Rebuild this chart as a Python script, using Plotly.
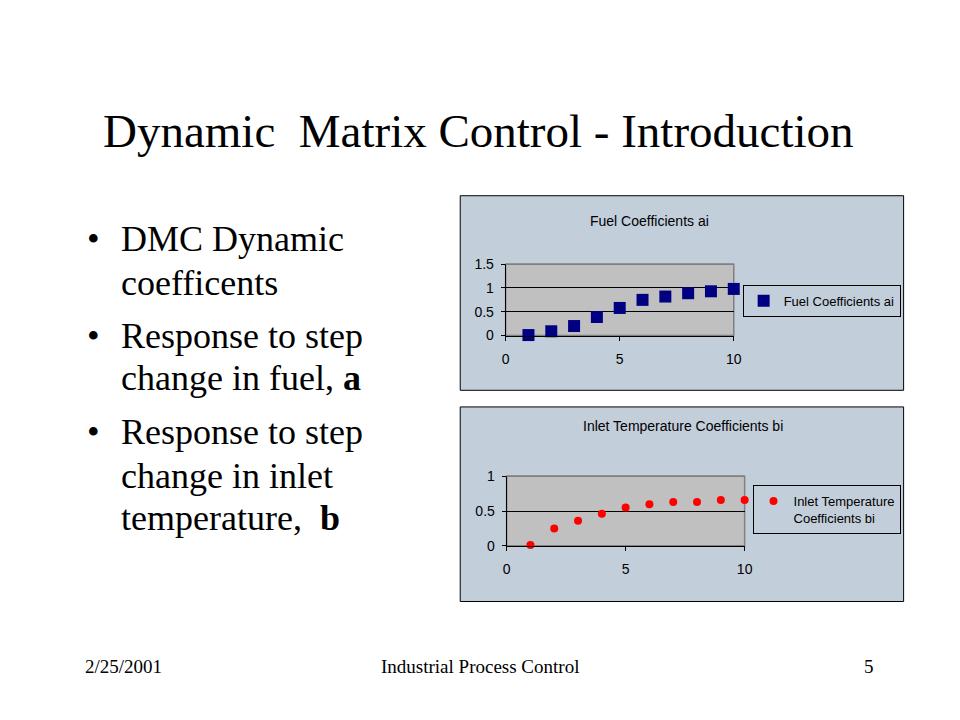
import plotly.graph_objects as go

# ---- data ----
step_index = [1, 2, 3, 4, 5, 6, 7, 8, 9, 10]
fuel_coeff_a = [0.01, 0.09, 0.20, 0.39, 0.58, 0.75, 0.82, 0.89, 0.93, 0.98]
inlet_coeff_b = [0.01, 0.25, 0.36, 0.46, 0.55, 0.60, 0.63, 0.63, 0.66, 0.66]
x_ticks = [0, 5, 10]
fuel_y_ticks = [0, 0.5, 1, 1.5]
inlet_y_ticks = [0, 0.5, 1]

title_text = "Dynamic&nbsp; Matrix Control - Introduction"
bullet_lines = [
    ("DMC Dynamic", True),
    ("coefficents", False),
    ("Response to step", True),
    ("change in fuel, <b>a</b>", False),
    ("Response to step", True),
    ("change in inlet", False),
    ("temperature,&nbsp; <b>b</b>", False),
]
bullet_baselines = [248, 293, 348, 391, 446, 491, 534]

W, H = 960, 720


def px(x):
    return x / W


def py(y):
    return 1 - y / H


SERIF = "Liberation Serif, Times New Roman, serif"
SANS = "Liberation Sans, Arial, sans-serif"
CHART_BG = "#C3CEDB"
PLOT_BG = "#C0C0C0"

fig = go.Figure()

fig.add_trace(go.Scatter(
    x=step_index, y=fuel_coeff_a, mode="markers", name="Fuel Coefficients ai",
    marker=dict(symbol="square", size=12, color="#000080"),
    xaxis="x", yaxis="y", cliponaxis=False, legend="legend",
))
fig.add_trace(go.Scatter(
    x=step_index, y=inlet_coeff_b, mode="markers",
    name="Inlet Temperature<br>Coefficients bi",
    marker=dict(symbol="circle", size=8, color="#FF0000"),
    xaxis="x2", yaxis="y2", cliponaxis=False, legend="legend2",
))

axis_common = dict(
    showline=True, linecolor="black", linewidth=1,
    ticks="outside", ticklen=4, tickcolor="black", tickwidth=1,
    tickfont=dict(family=SANS, size=14, color="black"),
    zeroline=False, fixedrange=True,
)

fig.update_layout(
    width=W, height=H,
    margin=dict(l=0, r=0, t=0, b=0),
    paper_bgcolor="white",
    plot_bgcolor="rgba(0,0,0,0)",
    showlegend=True,
    xaxis=dict(domain=[px(508), px(739)], range=[0, 10], tickvals=x_ticks,
               showgrid=False, anchor="y", ticklabelstandoff=7, **axis_common),
    yaxis=dict(domain=[py(335), py(262)], range=[0, 1.5], tickvals=fuel_y_ticks,
               showgrid=True, gridcolor="black", gridwidth=1, anchor="x",
               ticklabelstandoff=4, **axis_common),
    xaxis2=dict(domain=[px(509), px(750)], range=[0, 10], tickvals=x_ticks,
                showgrid=False, anchor="y2", ticklabelstandoff=6, **axis_common),
    yaxis2=dict(domain=[py(550), py(479)], range=[0, 1], tickvals=inlet_y_ticks,
                showgrid=True, gridcolor="black", gridwidth=1, anchor="x2",
                ticklabelstandoff=4, **axis_common),
    legend=dict(x=px(748), y=py(283), xanchor="left", yanchor="top",
                bgcolor="rgba(0,0,0,0)", bordercolor="black", borderwidth=1,
                font=dict(family=SANS, size=13, color="black"),
                itemwidth=30, tracegroupgap=0),
    legend2=dict(x=px(758), y=py(488), xanchor="left", yanchor="top",
                 bgcolor="rgba(0,0,0,0)", bordercolor="black", borderwidth=1,
                 font=dict(family=SANS, size=13, color="black"),
                 itemwidth=30, tracegroupgap=0, valign="top"),
)

shapes = [
    # chart frames
    dict(type="rect", xref="paper", yref="paper", x0=px(462), x1=px(911),
         y0=py(391), y1=py(192), fillcolor=CHART_BG,
         line=dict(color="black", width=1), layer="below"),
    dict(type="rect", xref="paper", yref="paper", x0=px(462), x1=px(911),
         y0=py(607), y1=py(408), fillcolor=CHART_BG,
         line=dict(color="black", width=1), layer="below"),
    # plot areas with grey border (right side shows under markers)
    dict(type="rect", xref="x domain", yref="y domain", x0=0, x1=1, y0=0, y1=1,
         fillcolor=PLOT_BG, line=dict(color="#808080", width=1.5), layer="below"),
    dict(type="rect", xref="x2 domain", yref="y2 domain", x0=0, x1=1, y0=0, y1=1,
         fillcolor=PLOT_BG, line=dict(color="#808080", width=1.5), layer="below"),
    # grey top edge over the top gridline
    dict(type="line", xref="x domain", yref="y domain", x0=0, x1=1, y0=1, y1=1,
         line=dict(color="#808080", width=1.5), layer="above"),
    dict(type="line", xref="x2 domain", yref="y2 domain", x0=0, x1=1, y0=1, y1=1,
         line=dict(color="#808080", width=1.5), layer="above"),
]
fig.update_layout(shapes=shapes)

annotations = [
    dict(text=title_text, x=px(481), y=py(126), xanchor="center", yanchor="middle",
         font=dict(family=SERIF, size=47, color="black")),
    dict(text="Fuel Coefficients ai", x=px(654), y=py(218), xanchor="center",
         yanchor="middle", font=dict(family=SANS, size=14, color="black")),
    dict(text="Inlet Temperature Coefficients bi", x=px(688), y=py(427),
         xanchor="center", yanchor="middle",
         font=dict(family=SANS, size=14, color="black")),
    dict(text="2/25/2001", x=px(80), y=py(673), xanchor="left", yanchor="middle",
         font=dict(family=SERIF, size=19, color="black")),
    dict(text="Industrial Process Control", x=px(482), y=py(673), xanchor="center",
         yanchor="middle", font=dict(family=SERIF, size=19, color="black")),
    dict(text="5", x=px(876), y=py(673), xanchor="center", yanchor="middle",
         font=dict(family=SERIF, size=19, color="black")),
]
bsize = 36
for (txt, has_bullet), base in zip(bullet_lines, bullet_baselines):
    yc = base - 0.3375 * bsize
    annotations.append(dict(text=txt, x=px(116), y=py(yc), xanchor="left",
                            yanchor="middle",
                            font=dict(family=SERIF, size=bsize, color="black")))
    if has_bullet:
        annotations.append(dict(text="•", x=px(91), y=py(yc), xanchor="center",
                                yanchor="middle",
                                font=dict(family=SERIF, size=bsize, color="black")))
for a in annotations:
    a.update(xref="paper", yref="paper", showarrow=False)
fig.update_layout(annotations=annotations)

fig.write_html(
    "out.html",
    config={"displayModeBar": False},
    post_script="document.body.style.margin='0';document.body.style.overflow='hidden';",
)
